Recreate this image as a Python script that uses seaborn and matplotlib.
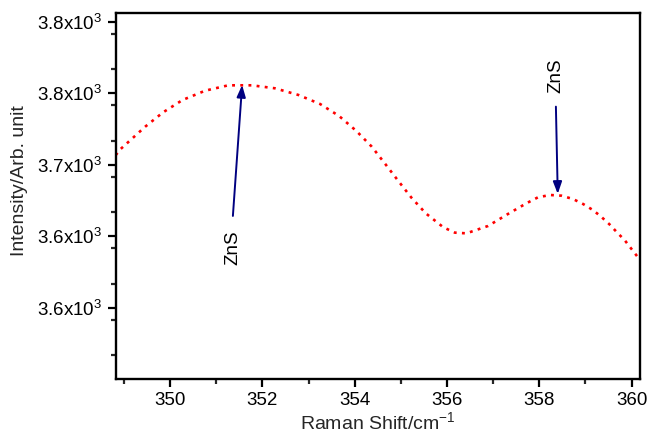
import numpy as np
import pandas as pd
import seaborn as sns
import matplotlib
matplotlib.use("Agg")
import matplotlib.pyplot as plt
from matplotlib.ticker import FuncFormatter, MultipleLocator

# Data
raman_shift = [348.82, 348.92, 349.46, 349.85, 350.27, 350.76, 351.26, 351.77, 352.27,
               352.78, 353.25, 353.66, 354.03, 354.37, 354.65, 354.94, 355.23, 355.54,
               355.92, 356.17, 356.42, 356.89, 357.31, 357.72, 357.97, 358.23, 358.48,
               358.73, 358.95, 359.16, 359.34, 359.52, 359.69, 359.85, 359.99, 360.14, 360.18]
intensity = [3708.0, 3712.9, 3731.9, 3744.0, 3754.3, 3762.1, 3766.6, 3766.6, 3764.1,
             3758.5, 3750.9, 3740.9, 3728.5, 3715.1, 3701.2, 3686.6, 3672.3, 3659.2,
             3647.5, 3643.0, 3642.4, 3648.6, 3658.4, 3667.6, 3672.6, 3674.6, 3674.0,
             3671.2, 3667.0, 3662.0, 3656.4, 3650.0, 3643.0, 3636.7, 3629.7, 3622.2, 3620.0]

x_ticks = [350, 352, 354, 356, 358, 360]
y_ticks = [3580, 3640, 3700, 3760, 3820]

peak_labels = ["ZnS", "ZnS"]
peak_tips_x = [351.56, 358.40]
peak_tips_y = [3766.9, 3675.5]
arrow_tails_x = [351.36, 358.36]
arrow_tails_y = [3657.0, 3748.7]
label_x = [351.35, 358.36]
label_y = [3630.0, 3775.0]

sns.set_theme(style="ticks")
plt.rcParams["font.family"] = ["Liberation Sans", "DejaVu Sans"]
plt.rcParams["mathtext.fontset"] = "custom"
plt.rcParams["mathtext.rm"] = "Liberation Sans"
plt.rcParams["mathtext.it"] = "Liberation Sans:italic"
plt.rcParams["mathtext.bf"] = "Liberation Sans:bold"

fig = plt.figure(figsize=(6.47, 4.34), dpi=100)
ax = fig.add_axes([0.1788, 0.1267, 0.989 - 0.1788, 0.9707 - 0.1267])

df = pd.DataFrame({"x": raman_shift, "y": intensity})
sns.lineplot(data=df, x="x", y="y", ax=ax, color="#ff0000", linewidth=1.9,
             linestyle=(0, (1.1, 2.0)), sort=False)

for lab, tx, ty, ax_, ay_, lx, ly in zip(peak_labels, peak_tips_x, peak_tips_y,
                                          arrow_tails_x, arrow_tails_y, label_x, label_y):
    ax.annotate("", xy=(tx, ty), xytext=(ax_, ay_),
                arrowprops=dict(arrowstyle="-|>,head_length=0.6,head_width=0.22",
                                color="#000080", lw=1.4, shrinkA=0, shrinkB=0))
    ax.text(lx, ly, lab, rotation=90, ha="center", va="center", fontsize=13.5, color="black")

ax.set_xlim(348.82, 360.18)
ax.set_ylim(3520.2, 3827.5)
ax.set_xticks(x_ticks)
ax.set_yticks(y_ticks)
ax.xaxis.set_minor_locator(MultipleLocator(1))
ax.yaxis.set_minor_locator(MultipleLocator(30))
ax.yaxis.set_major_formatter(FuncFormatter(lambda v, p: f"{v/1000:.1f}x10$^3$"))

ax.tick_params(axis="both", which="major", direction="out", length=6, width=1.6,
               labelsize=13.5, colors="black", top=False, right=False)
ax.tick_params(axis="both", which="minor", direction="out", length=3.5, width=1.6,
               top=False, right=False)
ax.tick_params(axis="x", pad=3)
ax.tick_params(axis="y", pad=4)

for side in ["left", "bottom", "top", "right"]:
    ax.spines[side].set_visible(True)
    ax.spines[side].set_color("black")
    ax.spines[side].set_linewidth(1.7)

ax.set_xlabel("Raman Shift/cm$^{-1}$", fontsize=14)
ax.set_ylabel("Intensity/Arb. unit", fontsize=14)
ax.xaxis.set_label_coords(0.5, -0.088)
ax.yaxis.set_label_coords(-0.167, 0.543)

fig.savefig("out.png", dpi=100)
